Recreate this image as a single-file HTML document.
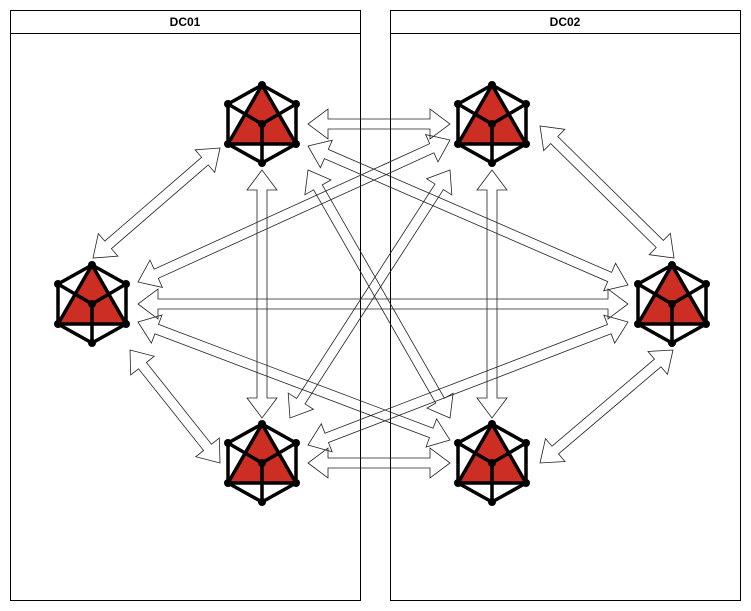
<!DOCTYPE html>
<html><head><meta charset="utf-8"><style>
body{margin:0;background:#fff;width:751px;height:611px;overflow:hidden}
svg{display:block}
</style></head><body>
<svg id="s" width="751" height="611" xmlns="http://www.w3.org/2000/svg">
<rect x="0" y="0" width="751" height="611" fill="#fff"/>
<rect x="10.5" y="10.5" width="350" height="590" fill="none" stroke="#000"/>
<line x1="10.5" y1="33.5" x2="360.5" y2="33.5" stroke="#000"/>
<text x="185" y="26" text-anchor="middle" font-family="Liberation Sans, sans-serif" font-size="12" font-weight="bold">DC01</text>
<rect x="390.5" y="10.5" width="350" height="590" fill="none" stroke="#000"/>
<line x1="390.5" y1="33.5" x2="740.5" y2="33.5" stroke="#000"/>
<text x="565" y="26" text-anchor="middle" font-family="Liberation Sans, sans-serif" font-size="12" font-weight="bold">DC02</text>
<g id="arrows"></g>
<g id="icons"></g>
</svg>
<script>
var A=[[308,124,450,124],[308,463,450,463],[138,304,628,304],[262,170,262,418],[492,170,492,418],
[220,148,93,258],[540,126,674,258],[130,350,220,463],[673,350,540,463],
[308,146,628,285],[450,140,138,282],[138,322,450,440],[628,322,308,445],[308,170,450,418],[450,170,290,418]];
var g=document.getElementById('arrows'),h='';
A.forEach(function(a){var x1=a[0],y1=a[1],x2=a[2],y2=a[3],dx=x2-x1,dy=y2-y1,L=Math.hypot(dx,dy),ux=dx/L,uy=dy/L,nx=-uy,ny=ux,w=5,W=15,H=20;
function p(t,o){return (x1+ux*t+nx*o).toFixed(1)+','+(y1+uy*t+ny*o).toFixed(1)}
var pts=[p(0,0),p(H,W),p(H,w),p(L-H,w),p(L-H,W),p(L,0),p(L-H,-W),p(L-H,-w),p(H,-w),p(H,-W)];
h+='<polygon points="'+pts.join(' ')+'" fill="none" stroke="#222" stroke-width="0.8"/>';});
g.innerHTML=h;
var I=[[262,124],[492,124],[92,304],[672,304],[262,463],[492,463]],s='';
I.forEach(function(c){var x=c[0],y=c[1],rx=34,ry=39,hy=20;
var T=[x,y-ry],UR=[x+rx,y-hy],LR=[x+rx,y+hy],B=[x,y+ry],LL=[x-rx,y+hy],UL=[x-rx,y-hy],C=[x,y];
function q(v){return v[0]+','+v[1]}
s+='<polygon points="'+[T,UR,LR,B,LL,UL].map(q).join(' ')+'" fill="#fff"/>';
s+='<polygon points="'+q(T)+' '+q(LR)+' '+q(LL)+'" fill="#cc2e24"/>';
s+='<g stroke="#000" stroke-width="3.5" fill="none" stroke-linejoin="round"><polygon points="'+[T,UR,LR,B,LL,UL].map(q).join(' ')+'"/>';
s+='<polygon points="'+q(T)+' '+q(LR)+' '+q(LL)+'"/>';
s+='<line x1="'+x+'" y1="'+y+'" x2="'+UL[0]+'" y2="'+UL[1]+'"/><line x1="'+x+'" y1="'+y+'" x2="'+UR[0]+'" y2="'+UR[1]+'"/><line x1="'+x+'" y1="'+y+'" x2="'+x+'" y2="'+B[1]+'"/></g>';
[T,UR,LR,B,LL,UL,C].forEach(function(v){s+='<circle cx="'+v[0]+'" cy="'+v[1]+'" r="4" fill="#000"/>'});});
document.getElementById('icons').innerHTML=s;
</script>
</body></html>
